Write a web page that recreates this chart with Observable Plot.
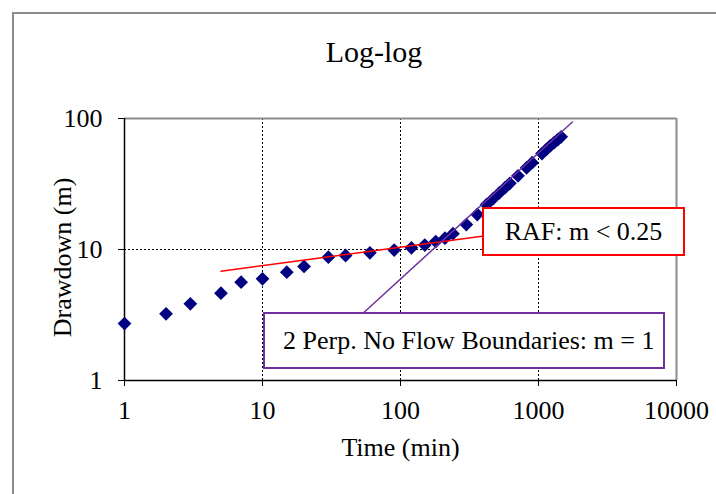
<!DOCTYPE html>
<html><head><meta charset="utf-8">
<script src="https://cdn.jsdelivr.net/npm/d3@7"></script>
<script src="https://cdn.jsdelivr.net/npm/@observablehq/plot@0.6"></script>
<style>
body{margin:0;background:#fff;}
#wrap{position:relative;width:716px;height:494px;overflow:hidden;background:#fff;font-family:"Liberation Serif","Times New Roman",serif;color:#000;}
#frame{position:absolute;left:12px;top:12px;width:800px;height:600px;border-left:2px solid #8c8c8c;border-top:2px solid #8c8c8c;}
#title{position:absolute;left:0;top:0;width:748px;height:80px;box-sizing:border-box;padding-top:37px;text-align:center;font-size:30px;line-height:30px;}
#chart{position:absolute;left:0;top:80px;}
.box{position:absolute;box-sizing:border-box;background:#fff;font-size:26px;white-space:nowrap;display:flex;align-items:center;}
#raf{left:482px;top:207px;width:203px;height:49px;border:2px solid #ff0000;justify-content:center;}
#perp{left:263px;top:312px;width:402px;height:57px;border:2px solid #7030a0;padding-left:18px;}
</style></head>
<body>
<div id="wrap">
  <div id="frame"></div>
  <div id="title">Log-log</div>
  <div id="chart"></div>
  <div class="box" id="raf">RAF: m &lt; 0.25</div>
  <div class="box" id="perp">2 Perp. No Flow Boundaries: m = 1</div>
</div>
<script>
// Observed data: time (min) and drawdown (m)
const time = [1, 2, 3, 5, 7, 10, 15, 20, 30, 40, 60, 90, 120, 150, 180, 210, 240,
  300, 360, 420, 470, 520, 570, 620, 710, 820, 900, 1060, 1140, 1220, 1300, 1380, 1460];
const drawdown = [2.72, 3.23, 3.85, 4.64, 5.63, 5.97, 6.71, 7.42, 8.74, 9.0, 9.44, 9.9, 10.3, 10.8, 11.5, 12.2, 13.2,
  15.5, 18.5, 22, 24.5, 27, 29.5, 32, 36.5, 42, 46, 54, 58, 62, 65.5, 69, 72.5];

// Fitted straight lines (annotations)
const rafTime = [5, 390];
const rafDrawdown = [6.83, 12.6];
const perpTime = [54, 1760];
const perpDrawdown = [3.29, 94];

// Axis ticks
const xTicks = [1, 10, 100, 1000, 10000];
const yTicks = [1, 10, 100];
const xGrid = [10, 100, 1000];
const yGrid = [10];

const pts = time.map((t, i) => ({t, s: drawdown[i]}));
const raf = rafTime.map((t, i) => ({t, s: rafDrawdown[i]}));
const perp = perpTime.map((t, i) => ({t, s: perpDrawdown[i]}));

const chart = Plot.plot({
  width: 716,
  height: 414,
  marginLeft: 124,
  marginRight: 40,
  marginTop: 38,
  marginBottom: 114,
  style: {fontFamily: '"Liberation Serif","Times New Roman",serif', fontSize: "26px", background: "transparent", overflow: "visible", color: "#000"},
  x: {type: "log", domain: [1, 10000]},
  y: {type: "log", domain: [1, 100]},
  marks: [
    Plot.ruleX(xGrid, {stroke: "#000", strokeWidth: 1, strokeDasharray: "2,2"}),
    Plot.ruleY(yGrid, {stroke: "#000", strokeWidth: 1, strokeDasharray: "2,2"}),
    Plot.ruleY([100], {stroke: "#8c8c8c", strokeWidth: 2}),
    Plot.ruleX([10000], {stroke: "#8c8c8c", strokeWidth: 2}),
    Plot.ruleX([1], {stroke: "#000", strokeWidth: 1.5}),
    Plot.ruleY([1], {stroke: "#000", strokeWidth: 1.5}),
    Plot.axisX({ticks: xTicks, tickFormat: d => String(d), tickSize: 6, tickPadding: 14, label: null, stroke: "#000", fill: "#000"}),
    Plot.axisY({ticks: yTicks, tickFormat: d => String(d), tickSize: 6, tickPadding: 16, label: null, stroke: "#000", fill: "#000"}),
    Plot.dot(pts, {x: "t", y: "s", symbol: "diamond2", r: 6.2, fill: "#000080", stroke: "none"}),
    Plot.line(raf, {x: "t", y: "s", stroke: "#ff0000", strokeWidth: 1.5}),
    Plot.line(perp, {x: "t", y: "s", stroke: "#7030a0", strokeWidth: 1.5}),
    Plot.text(["Time (min)"], {frameAnchor: "bottom", dy: 67, lineAnchor: "middle", textAnchor: "middle", fill: "#000"}),
    Plot.text(["Drawdown (m)"], {frameAnchor: "left", dx: -62, dy: 8, rotate: -90, textAnchor: "middle", lineAnchor: "middle", fill: "#000"})
  ]
});
document.getElementById("chart").appendChild(chart);
</script>
</body></html>
